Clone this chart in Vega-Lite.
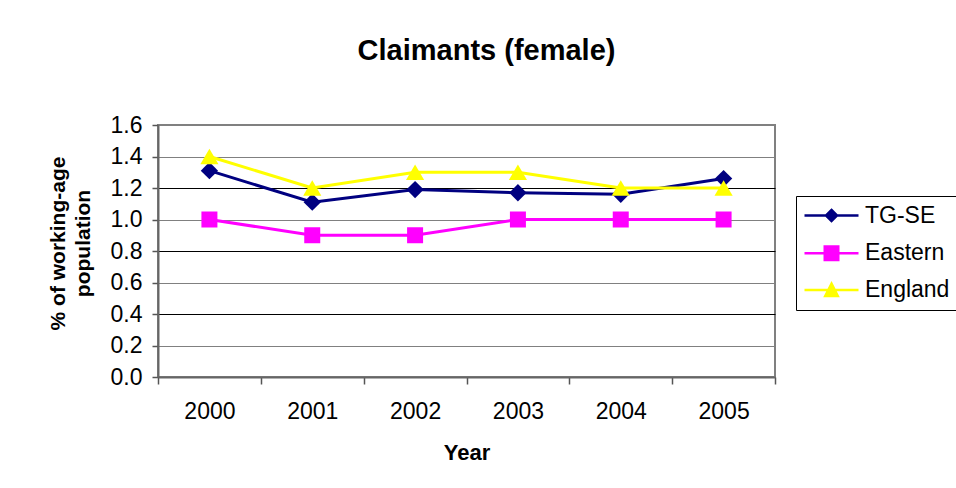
{
  "$schema": "https://vega.github.io/schema/vega-lite/v6.json",
  "width": 617,
  "height": 252,
  "autosize": "none",
  "padding": {"left": 158, "top": 125, "right": 181, "bottom": 111},
  "background": "white",
  "title": {
    "text": "Claimants (female)",
    "font": "Liberation Sans",
    "fontSize": 29,
    "fontWeight": "bold",
    "color": "black",
    "anchor": "middle",
    "frame": "group",
    "dx": 20,
    "offset": 48
  },
  "data": {
    "values": [
      {"year": "2000", "series": "TG-SE", "value": 1.31},
      {"year": "2001", "series": "TG-SE", "value": 1.11},
      {"year": "2002", "series": "TG-SE", "value": 1.19},
      {"year": "2003", "series": "TG-SE", "value": 1.17},
      {"year": "2004", "series": "TG-SE", "value": 1.16},
      {"year": "2005", "series": "TG-SE", "value": 1.26},
      {"year": "2000", "series": "Eastern", "value": 1.0},
      {"year": "2001", "series": "Eastern", "value": 0.9},
      {"year": "2002", "series": "Eastern", "value": 0.9},
      {"year": "2003", "series": "Eastern", "value": 1.0},
      {"year": "2004", "series": "Eastern", "value": 1.0},
      {"year": "2005", "series": "Eastern", "value": 1.0},
      {"year": "2000", "series": "England", "value": 1.4},
      {"year": "2001", "series": "England", "value": 1.2},
      {"year": "2002", "series": "England", "value": 1.3},
      {"year": "2003", "series": "England", "value": 1.3},
      {"year": "2004", "series": "England", "value": 1.2},
      {"year": "2005", "series": "England", "value": 1.2}
    ]
  },
  "encoding": {
    "x": {
      "field": "year",
      "type": "ordinal",
      "scale": {"paddingInner": 0, "paddingOuter": 0},
      "axis": {
        "title": "Year",
        "labelAngle": 0,
        "labelFont": "Liberation Sans",
        "labelFontSize": 23,
        "labelColor": "black",
        "labelBaseline": "middle",
        "labelPadding": 27,
        "tickBand": "extent",
        "tickSize": 7,
        "tickColor": "#555555",
        "tickWidth": 1.5,
        "domainColor": "#666666",
        "domainWidth": 2,
        "grid": false,
        "titleFont": "Liberation Sans",
        "titleFontSize": 22,
        "titleFontWeight": "bold",
        "titleColor": "black",
        "titleBaseline": "middle",
        "titleY": 75
      }
    },
    "y": {
      "field": "value",
      "type": "quantitative",
      "scale": {"domain": [0, 1.6], "nice": false, "zero": true},
      "axis": {
        "title": ["% of working-age", "population"],
        "values": [0, 0.2, 0.4, 0.6, 0.8, 1.0, 1.2, 1.4, 1.6],
        "format": ".1f",
        "labelFont": "Liberation Sans",
        "labelFontSize": 23,
        "labelColor": "black",
        "labelPadding": 10,
        "tickSize": 6,
        "tickColor": "#555555",
        "tickWidth": 1.5,
        "domainColor": "#666666",
        "domainWidth": 2,
        "grid": true,
        "gridColor": {
          "condition": {"test": "datum.value == 1.2 || datum.value == 0.8 || datum.value == 0.4", "value": "#000000"},
          "value": "#808080"
        },
        "gridWidth": 1.2,
        "gridOpacity": 1,
        "titleFont": "Liberation Sans",
        "titleFontSize": 21,
        "titleFontWeight": "bold",
        "titleColor": "black",
        "titleAngle": -90,
        "titleAlign": "center",
        "titleBaseline": "middle",
        "titleLineHeight": 25,
        "titleX": -100,
        "titleY": 118
      }
    },
    "color": {
      "field": "series",
      "type": "nominal",
      "scale": {"domain": ["TG-SE", "Eastern", "England"], "range": ["#000080", "#FF00FF", "#FFFF00"]},
      "legend": {
        "title": null,
        "orient": "none",
        "legendX": 638,
        "legendY": 71,
        "padding": 8,
        "strokeColor": "black",
        "fillColor": "white",
        "symbolSize": 100,
        "symbolOffset": 16,
        "labelOffset": 22,
        "rowPadding": 12.7,
        "labelFont": "Liberation Sans",
        "labelFontSize": 23,
        "labelColor": "black",
        "labelBaseline": "middle",
        "encode": {
          "symbols": {
            "update": {
              "shape": {"signal": "datum.value === 'TG-SE' ? 'M-5.4,0H5.4M0,-1.1L1.1,0L0,1.1L-1.1,0Z' : datum.value === 'Eastern' ? 'M-5.4,0H5.4M-1.35,-1.35H1.35V1.35H-1.35Z' : 'M-5.4,0H5.4M0,-1.25L1.25,1.2H-1.25Z'"},
              "fill": {"scale": "color", "field": "value"},
              "stroke": {"scale": "color", "field": "value"},
              "strokeWidth": {"value": 2.5},
              "size": {"value": 100},
              "opacity": {"value": 1},
              "fillOpacity": {"value": 1},
              "strokeOpacity": {"value": 1}
            }
          }
        }
      }
    }
  },
  "layer": [
    {
      "mark": {"type": "line", "strokeWidth": 3}
    },
    {
      "transform": [{"filter": "datum.series == 'TG-SE'"}],
      "mark": {"type": "point", "filled": true, "opacity": 1, "shape": "diamond", "size": 300}
    },
    {
      "transform": [{"filter": "datum.series == 'Eastern'"}],
      "mark": {"type": "point", "filled": true, "opacity": 1, "shape": "square", "size": 256}
    },
    {
      "transform": [{"filter": "datum.series == 'England'"}],
      "mark": {"type": "point", "filled": true, "opacity": 1, "shape": "triangle-up", "size": 330}
    }
  ],
  "config": {
    "view": {"stroke": "#808080", "strokeWidth": 2},
    "font": "Liberation Sans"
  }
}
